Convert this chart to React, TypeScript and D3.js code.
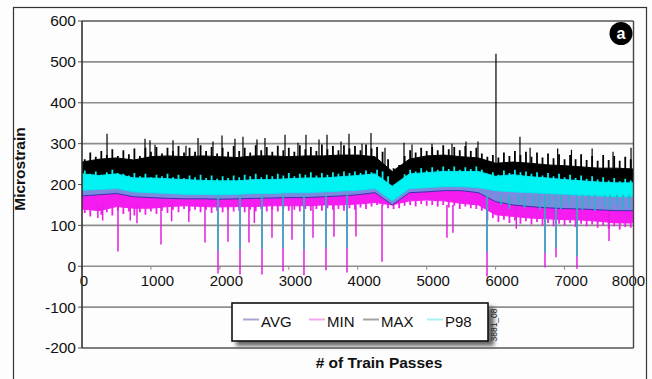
import React from 'react';
import * as d3 from 'd3';

// sample passes used for the band envelopes
const passes = [0, 250, 500, 750, 1000, 1250, 1500, 1750, 2000, 2250, 2500, 2750, 3000, 3250, 3500, 3750, 4000, 4250, 4500, 4750, 5000, 5250, 5500, 5750, 6000, 6250, 6500, 6750, 7000, 7250, 7500, 7750, 8000];

// solid part of each trace (upper / lower edge)
const maxHigh = [255, 262, 265, 260, 268, 270, 268, 270, 268, 266, 270, 270, 268, 270, 270, 272, 272, 268, 232, 262, 270, 272, 268, 265, 252, 255, 252, 248, 246, 243, 240, 240, 238];
const p98High = [226, 222, 226, 216, 216, 214, 212, 210, 209, 209, 212, 212, 214, 216, 216, 219, 222, 226, 196, 226, 229, 232, 232, 232, 220, 224, 219, 216, 212, 209, 206, 204, 204];
const p98Low = [186, 188, 190, 182, 180, 178, 176, 176, 175, 176, 178, 178, 180, 180, 182, 184, 186, 190, 160, 190, 192, 195, 195, 192, 185, 182, 180, 178, 176, 174, 172, 170, 170];
const avgHigh = [194, 196, 198, 190, 188, 186, 184, 184, 183, 184, 186, 186, 188, 188, 190, 192, 194, 198, 168, 198, 200, 203, 203, 200, 192, 190, 188, 186, 184, 182, 180, 178, 178];
const avgLow = [172, 175, 178, 170, 168, 166, 165, 165, 164, 165, 166, 167, 168, 168, 170, 172, 175, 180, 150, 180, 182, 185, 185, 180, 158, 150, 146, 143, 141, 140, 138, 136, 136];
const minHigh = [188, 190, 192, 186, 184, 182, 180, 180, 180, 180, 182, 182, 184, 184, 186, 188, 190, 194, 170, 194, 196, 198, 198, 195, 180, 175, 170, 165, 162, 160, 160, 158, 158];
const minLow = [140, 136, 146, 142, 142, 146, 148, 146, 145, 146, 146, 148, 148, 148, 150, 150, 152, 156, 150, 160, 162, 160, 154, 150, 126, 122, 118, 116, 114, 113, 110, 106, 106];

// local peaks of the noisy traces
const grassPass = [40, 120, 200, 280, 360, 440, 520, 600, 680, 760, 840, 920, 1000, 1080, 1160, 1240, 1320, 1400, 1480, 1560, 1640, 1720, 1800, 1880, 1960, 2040, 2120, 2200, 2280, 2360, 2440, 2520, 2600, 2680, 2760, 2840, 2920, 3000, 3080, 3160, 3240, 3320, 3400, 3480, 3560, 3640, 3720, 3800, 3880, 3960, 4040, 4120, 4200, 4280, 4360, 4440, 4520, 4600, 4680, 4760, 4840, 4920, 5000, 5080, 5160, 5240, 5320, 5400, 5480, 5560, 5640, 5720, 5800, 5880, 5960, 6040, 6120, 6200, 6280, 6360, 6440, 6520, 6600, 6680, 6760, 6840, 6920, 7000, 7080, 7160, 7240, 7320, 7400, 7480, 7560, 7640, 7720, 7800, 7880, 7960];
const maxPeaks = [262, 278, 268, 282, 272, 286, 270, 284, 274, 288, 270, 290, 280, 292, 276, 290, 282, 294, 278, 290, 280, 296, 282, 292, 276, 290, 280, 294, 282, 290, 278, 296, 284, 292, 280, 295, 284, 290, 280, 296, 286, 292, 282, 298, 286, 294, 284, 296, 288, 294, 284, 298, 288, 292, 280, 262, 240, 248, 270, 284, 278, 290, 282, 292, 284, 296, 286, 292, 284, 294, 282, 290, 276, 268, 272, 266, 278, 270, 282, 272, 280, 268, 278, 266, 276, 264, 274, 262, 272, 262, 274, 260, 270, 258, 272, 260, 270, 258, 268, 262];
const p98Peaks = [234, 226, 232, 224, 230, 236, 228, 226, 222, 228, 220, 226, 218, 224, 220, 226, 218, 224, 216, 222, 218, 224, 216, 222, 214, 220, 216, 222, 218, 224, 220, 226, 218, 224, 220, 226, 222, 228, 220, 226, 224, 230, 222, 228, 224, 230, 226, 232, 228, 232, 228, 234, 230, 236, 232, 220, 200, 205, 225, 236, 232, 240, 234, 242, 236, 244, 238, 244, 236, 242, 238, 244, 236, 226, 230, 224, 234, 228, 236, 230, 232, 226, 230, 222, 228, 220, 226, 218, 224, 216, 222, 214, 220, 212, 218, 210, 216, 208, 214, 210];
const minTroughs = [130, 122, 138, 126, 132, 124, 136, 128, 134, 124, 132, 126, 134, 128, 136, 130, 138, 132, 140, 134, 138, 132, 138, 130, 136, 132, 138, 134, 136, 132, 138, 134, 140, 134, 138, 134, 140, 136, 138, 134, 140, 136, 140, 136, 142, 138, 140, 136, 142, 138, 144, 140, 146, 150, 148, 142, 140, 142, 148, 150, 146, 152, 148, 150, 146, 150, 144, 148, 140, 146, 142, 140, 136, 112, 118, 108, 114, 106, 112, 104, 110, 102, 108, 100, 106, 98, 104, 100, 106, 96, 104, 98, 102, 94, 100, 92, 98, 90, 96, 94];

// isolated peaks / drops
const maxSpikePass = [363, 914, 986, 1059, 1320, 1508, 1683, 1900, 2031, 2219, 2335, 2538, 2654, 2945, 3133, 3249, 3438, 3554, 3757, 3873, 4062, 4192, 4395, 4671, 4787, 5077, 5367, 5570, 5744, 6005, 6353, 6500, 6900, 7100, 7400, 7703, 7964];
const maxSpikeVal = [324, 312, 308, 297, 308, 295, 314, 305, 320, 312, 317, 310, 314, 322, 302, 322, 310, 322, 305, 324, 300, 326, 290, 302, 298, 300, 300, 305, 305, 520, 317, 290, 288, 285, 288, 280, 290];

const minSpikePass = [230, 300, 522, 700, 798, 1146, 1300, 1550, 1784, 1973, 2118, 2292, 2422, 2500, 2611, 2756, 2916, 3046, 3220, 3351, 3539, 3655, 3844, 3974, 4352, 5294, 5381, 5875, 6300, 6716, 6876, 7180, 7645];
const minSpikeVal = [118, 112, 36, 112, 105, 53, 110, 108, 58, -18, 60, -20, 58, 106, -20, 70, -12, 65, -22, 70, -10, 72, -15, 73, 11, 70, 82, -25, 92, -3, 22, -6, 62];

const p98SpikePass = [1973, 2292, 2611, 2916, 3220, 3539, 3844, 5875, 6080, 6200, 6330, 6420, 6550, 6640, 6716, 6780, 6876, 6950, 7060, 7180, 7260, 7350, 7440, 7580, 7660, 7760, 7850, 7940];
const p98SpikeVal = [38, 42, 42, 45, 40, 45, 45, 36, 150, 140, 155, 142, 148, 138, 33, 150, 45, 140, 152, 24, 138, 148, 136, 146, 140, 150, 138, 142];

const yTicks = [-200, -100, 0, 100, 200, 300, 400, 500, 600];
const xTicks = [0, 1000, 2000, 3000, 4000, 5000, 6000, 7000, 8000];
const seriesNames = ['AVG', 'MIN', 'MAX', 'P98'];
const legendColors = ['#aaa4d2', '#f0a8ea', '#a4a4a4', '#a8f0f0'];

export default function App() {
  const x = d3.scaleLinear().domain([0, 8000]).range([82, 633.5]);
  const y = d3.scaleLinear().domain([-200, 600]).range([348, 21]);

  const band = (hi: number[], lo: number[]) =>
    d3.area<number>()
      .x((d, i) => x(passes[i]))
      .y0((d, i) => y(lo[i]))
      .y1((d, i) => y(hi[i]))(passes) as string;

  // vertical strokes from a base level to each value
  const ticks = (ps: number[], vs: number[], base: number, color: string, w: number, key: string) =>
    ps.map((p, i) => (
      <line key={key + i} x1={x(p)} x2={x(p)} y1={y(base)} y2={y(vs[i])} stroke={color} strokeWidth={w} />
    ));

  const font = "'Liberation Sans', Arial, sans-serif";
  const legendX = [243, 309, 363, 427];

  return (
    <svg width={652} height={379} style={{ position: 'absolute', left: 0, top: 0, background: '#fdfdfd' }} fontFamily={font}>
      <defs>
        <clipPath id="plot">
          <rect x={82} y={21} width={551.5} height={327} />
        </clipPath>
        <filter id="shadow" x="-10%" y="-30%" width="130%" height="180%">
          <feGaussianBlur stdDeviation="2" />
        </filter>
      </defs>
      <rect x={13.5} y={7.5} width={633} height={380} fill="#fdfdfd" stroke="#333" strokeWidth={1.2} />

      {/* grid */}
      {yTicks.map(t => (
        <g key={t}>
          <line x1={82} x2={633.5} y1={y(t)} y2={y(t)} stroke={t === 600 || t === -200 ? '#555' : '#8e8e8e'} strokeWidth={1.6} />
          <line x1={78} x2={82} y1={y(t)} y2={y(t)} stroke="#555" strokeWidth={1} />
          <text x={76} y={y(t)} dy="0.35em" textAnchor="end" fontSize={15.5} fill="#111">{t}</text>
        </g>
      ))}
      {xTicks.map((t, i) => (
        <g key={t}>
          <line x1={x(t)} x2={x(t)} y1={y(0)} y2={y(0) + 3.5} stroke="#888" strokeWidth={1} />
          <text x={x(t) + (i === 0 ? 2 : i === xTicks.length - 1 ? -5 : 6.5)} y={280.5} dy="0.35em" textAnchor="middle" fontSize={15} fill="#111">{t}</text>
        </g>
      ))}

      <g clipPath="url(#plot)">
        <path d={band(maxHigh, p98Low)} fill="#000" stroke="#000" strokeWidth={1} />
        {ticks(grassPass, maxPeaks, 235, '#000', 1.8, 'mg')}
        {ticks(maxSpikePass, maxSpikeVal, 240, '#000', 1.2, 'mx')}
        <path d={band(minHigh, minLow)} fill="#f51cf0" stroke="#f51cf0" strokeWidth={1} />
        {ticks(grassPass, minTroughs, 160, '#f51cf0', 1.8, 'ng')}
        {ticks(minSpikePass, minSpikeVal, 150, '#e21ee0', 1.5, 'mn')}
        <path d={band(avgHigh, avgLow)} fill="#7b8ae0" stroke="#1b2a9a" strokeWidth={0.8} />
        <path d={band(p98High, p98Low)} fill="#00f2f2" stroke="#00e6ee" strokeWidth={1} />
        {ticks(grassPass, p98Peaks, 200, '#00f2f2', 1.8, 'pg')}
        {ticks(p98SpikePass, p98SpikeVal, 175, '#2ab4c2', 1.6, 'p9')}
      </g>

      {/* frame */}
      <line x1={82} x2={82} y1={21} y2={348} stroke="#333" strokeWidth={1.6} />
      <line x1={633.5} x2={633.5} y1={21} y2={348} stroke="#444" strokeWidth={1.4} />

      {/* badge */}
      <circle cx={621} cy={33.5} r={11.5} fill="#000" />
      <text x={621} y={33.5} dy="0.35em" textAnchor="middle" fontSize={16} fontWeight="bold" fill="#fff">a</text>

      {/* legend */}
      <rect x={236} y={307} width={258} height={39} fill="#666" filter="url(#shadow)" />
      <rect x={232} y={303} width={256} height={38} fill="#fff" stroke="#111" strokeWidth={1.6} />
      {seriesNames.map((s, i) => (
        <g key={s}>
          <line x1={legendX[i]} x2={legendX[i] + 16} y1={319.5} y2={319.5} stroke={legendColors[i]} strokeWidth={2} />
          <text x={legendX[i] + 18} y={322} dy="0.35em" fontSize={15} fill="#111">{s}</text>
        </g>
      ))}
      <text transform="translate(497,325) rotate(-90)" textAnchor="middle" fontSize={8.5} fill="#222">3881_08</text>

      {/* axis titles */}
      <text transform="translate(25,169) rotate(-90)" textAnchor="middle" fontSize={15.5} fontWeight="bold" fill="#111">Microstrain</text>
      <text x={379} y={368} textAnchor="middle" fontSize={15.5} fontWeight="bold" fill="#111"># of Train Passes</text>
    </svg>
  );
}
